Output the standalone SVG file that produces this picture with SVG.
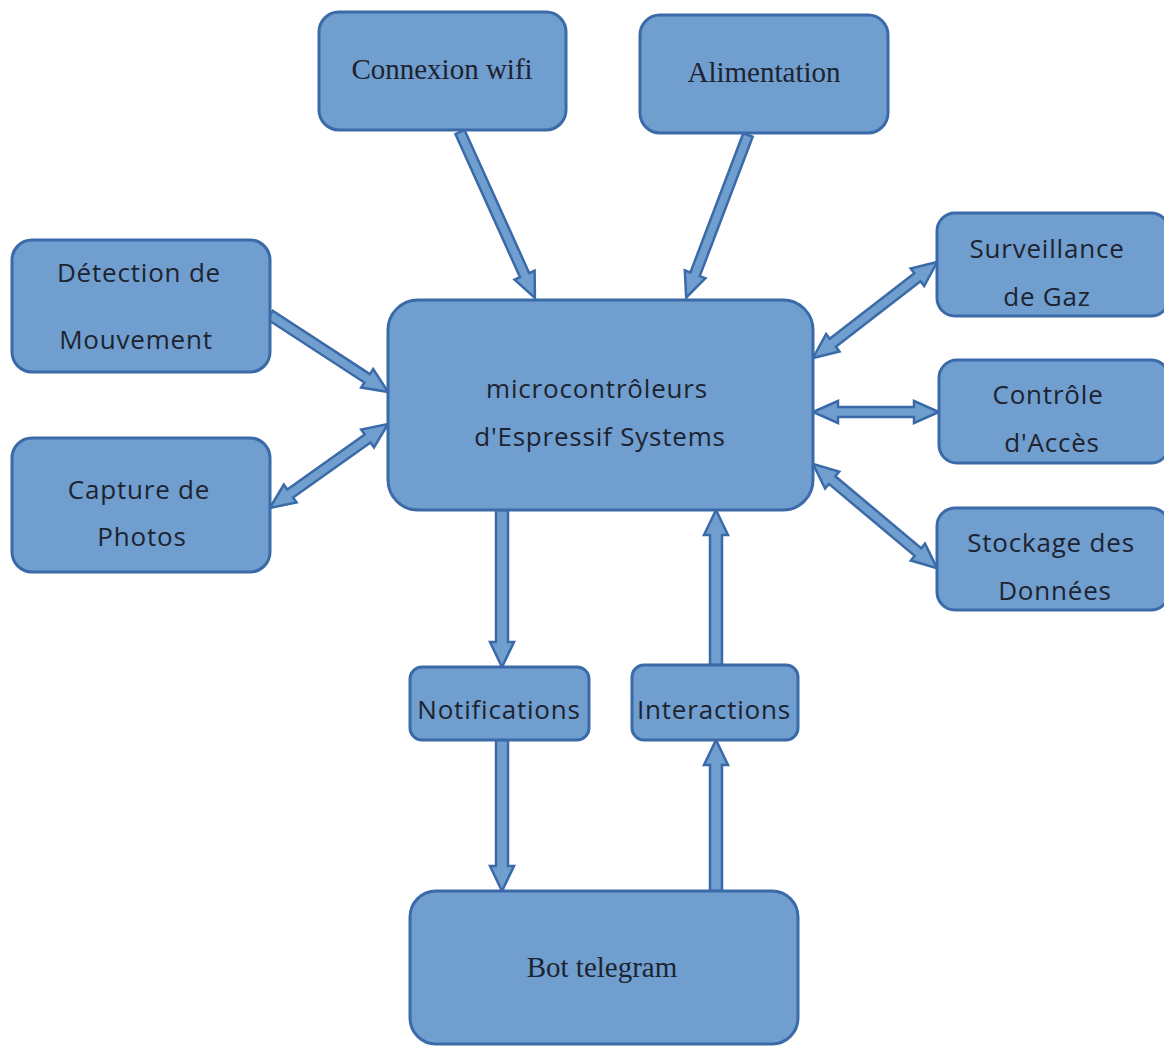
<svg xmlns="http://www.w3.org/2000/svg" width="1164" height="1046" viewBox="0 0 1164 1046">
<style>
.box{fill:#6f9ecf;stroke:#3b6aa8;stroke-width:3}
.arr{fill:#6f9ecf;stroke:#3b6aa8;stroke-width:2.5;stroke-linejoin:miter}
.s{font-family:"Open Sans","Noto Sans",sans-serif;font-size:26px;letter-spacing:0.8px;fill:#1e2330;text-anchor:middle}
.r{font-family:"Liberation Serif",serif;font-size:29px;fill:#1e2330;text-anchor:middle}
</style>
<rect width="1164" height="1046" fill="#ffffff"/>
<g id="connectors">
<polygon class="arr" transform="translate(460,132) rotate(65.7)" points="0,-5 157,-5 157,-11 182,0 157,11 157,5 0,5"/>
<polygon class="arr" transform="translate(748,135) rotate(110.8)" points="0,-5 149,-5 149,-11 174,0 149,11 149,5 0,5"/>
<polygon class="arr" transform="translate(270,315) rotate(33.1)" points="0,-5 116,-5 116,-11 141,0 116,11 116,5 0,5"/>
<polygon class="arr" transform="translate(388,424) rotate(144.6)" points="0,0 25,-11 25,-5 120,-5 120,-11 145,0 120,11 120,5 25,5 25,11"/>
<polygon class="arr" transform="translate(813,358) rotate(-37.7)" points="0,0 25,-11 25,-5 132,-5 132,-11 157,0 132,11 132,5 25,5 25,11"/>
<polygon class="arr" transform="translate(813,412)" points="0,0 25,-11 25,-5 101,-5 101,-11 126,0 101,11 101,5 25,5 25,11"/>
<polygon class="arr" transform="translate(813,464) rotate(40)" points="0,0 25,-11 25,-5 137,-5 137,-11 162,0 137,11 137,5 25,5 25,11"/>
<polygon class="arr" transform="translate(502,510) rotate(90)" points="0,-6 132,-6 132,-12 157,0 132,12 132,6 0,6"/>
<polygon class="arr" transform="translate(502,740) rotate(90)" points="0,-6 126,-6 126,-12 151,0 126,12 126,6 0,6"/>
<polygon class="arr" transform="translate(716,665) rotate(-90)" points="0,-6 130,-6 130,-12 155,0 130,12 130,6 0,6"/>
<polygon class="arr" transform="translate(716,891) rotate(-90)" points="0,-6 126,-6 126,-12 151,0 126,12 126,6 0,6"/>
</g>
<g id="wifi"><rect class="box" x="319" y="12" width="247" height="118" rx="20"/><text class="r" x="442" y="79">Connexion wifi</text></g>
<g id="alimentation"><rect class="box" x="640" y="15" width="248" height="118" rx="20"/><text class="r" x="764" y="82">Alimentation</text></g>
<g id="detection"><rect class="box" x="12" y="240" width="258" height="132" rx="20"/><text class="s" x="139" y="282">Détection de</text><text class="s" x="136" y="349">Mouvement</text></g>
<g id="capture"><rect class="box" x="12" y="438" width="258" height="134" rx="20"/><text class="s" x="139" y="499">Capture de</text><text class="s" x="142" y="546">Photos</text></g>
<g id="center"><rect class="box" x="388" y="300" width="425" height="210" rx="30"/><text class="s" x="597" y="398">microcontrôleurs</text><text class="s" x="600" y="446">d'Espressif Systems</text></g>
<g id="gaz"><rect class="box" x="937" y="213" width="232" height="103" rx="18"/><text class="s" x="1047" y="258">Surveillance</text><text class="s" x="1047" y="306">de Gaz</text></g>
<g id="acces"><rect class="box" x="939" y="360" width="230" height="103" rx="18"/><text class="s" x="1048" y="404">Contrôle</text><text class="s" x="1052" y="452">d'Accès</text></g>
<g id="stockage"><rect class="box" x="937" y="508" width="232" height="102" rx="18"/><text class="s" x="1051" y="552">Stockage des</text><text class="s" x="1055" y="600">Données</text></g>
<g id="notifications"><rect class="box" x="410" y="667" width="179" height="73" rx="12"/><text class="s" x="499" y="719">Notifications</text></g>
<g id="interactions"><rect class="box" x="632" y="665" width="166" height="75" rx="12"/><text class="s" x="714" y="719">Interactions</text></g>
<g id="bot"><rect class="box" x="410" y="891" width="388" height="153" rx="26"/><text class="r" x="602" y="977">Bot telegram</text></g>
</svg>
